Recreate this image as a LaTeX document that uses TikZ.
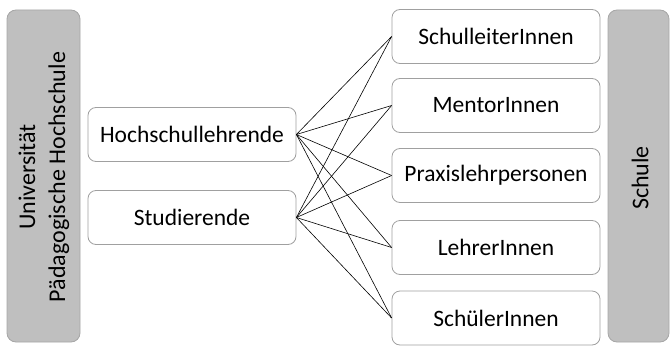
\documentclass[tikz,border=0pt]{standalone}
\usepackage{fontspec}
\setmainfont{Carlito}
\definecolor{grayfill}{HTML}{BFBFBF}
\definecolor{grayline}{HTML}{A6A6A6}
\definecolor{boxline}{HTML}{A0A0A0}
\begin{document}
\begin{tikzpicture}[x=1pt,y=-1pt,
  sidebox/.style={draw=grayline,fill=grayfill,rounded corners=9pt,line width=0.8pt,
    inner sep=0pt},
  rolebox/.style={draw=boxline,fill=white,rounded corners=8pt,line width=0.8pt,
    minimum width=208pt,minimum height=54pt,inner sep=0pt,font=\fontsize{23.5}{28}\selectfont},
  link/.style={draw=black,line width=0.6pt}]
\useasboundingbox (0,0) rectangle (671,345);
\node[sidebox,minimum width=73pt,minimum height=332pt] (uni) at (43.5,176) {};
\node[rotate=90,font=\fontsize{24}{30}\selectfont,align=center] (unitext) at (44,177) {Universität\\Pädagogische Hochschule};
\node[sidebox,minimum width=61pt,minimum height=332pt] (schule) at (638.5,176) {};
\node[rotate=90,font=\fontsize{24}{28}\selectfont] (schuletext) at (640,178) {Schule};
\node[rolebox] (hoch) at (192,134.5) {Hochschullehrende};
\node[rolebox] (stud) at (192,217.5) {Studierende};
\node[rolebox] (r1) at (496,36.5) {SchulleiterInnen};
\node[rolebox] (r2) at (496,105.5) {MentorInnen};
\node[rolebox] (r3) at (496,175.5) {Praxislehrpersonen};
\node[rolebox] (r4) at (496,247.5) {LehrerInnen};
\node[rolebox] (r5) at (496,318) {SchülerInnen};
\foreach \s in {hoch,stud}{
  \foreach \t in {r1,r2,r3,r4,r5}{
    \draw[link] (\s.east) -- (\t.west);
  }
}
\end{tikzpicture}
\end{document}
